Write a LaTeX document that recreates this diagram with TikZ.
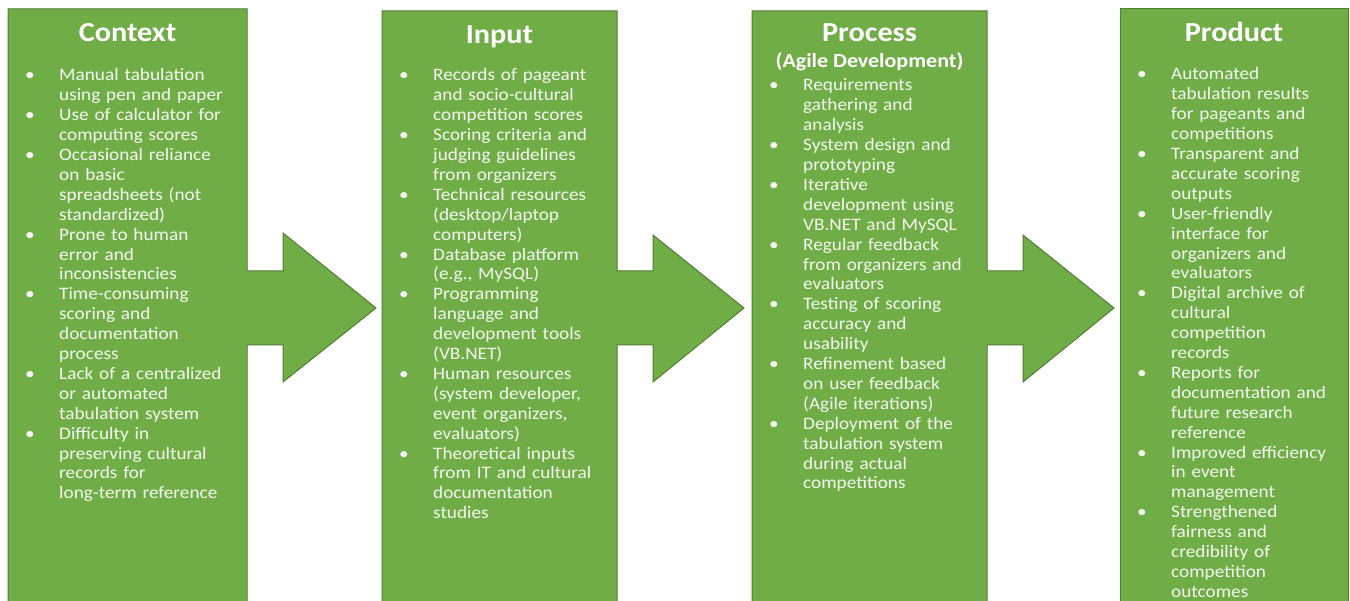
\documentclass[tikz,border=0pt]{standalone}
\usepackage{fontspec}
\setmainfont{Carlito}[FakeStretch=1.1]
\definecolor{boxgreen}{HTML}{70AD47}
\definecolor{boxline}{HTML}{507E32}
\definecolor{txtcol}{HTML}{F4F8F1}
\newcommand{\bitem}[1]{\par\noindent\hangindent=34pt\hangafter=1\makebox[34pt][l]{\textbullet}#1\par}
\tikzset{
  panel/.style={fill=boxgreen, draw=boxline, line width=1pt, line join=miter},
  ttl/.style={font=\fontsize{27.5}{30}\selectfont\bfseries, text=white, anchor=base, inner sep=0pt},
  subttl/.style={font=\fontsize{20}{22}\selectfont\bfseries, text=white, anchor=base, inner sep=0pt},
  lst/.style={text=txtcol, anchor=base west, inner sep=0pt, text width=250pt,
    font=\fontsize{17.5}{19.9}\selectfont},
}
\begin{document}
\begin{tikzpicture}[x=1pt,y=-1pt]
\useasboundingbox (0,0) rectangle (1350,601);
\clip (0,0) rectangle (1350,601);
% panels with arrows
\filldraw[panel] (8,9) -- (247,9) -- (247,271) -- (283,271) -- (283,233) -- (376,308) -- (283,382) -- (283,345) -- (247,345) -- (247,615) -- (8,615) -- cycle;
\filldraw[panel] (382,11) -- (617,11) -- (617,271) -- (653,271) -- (653,235) -- (744,308) -- (653,382) -- (653,345) -- (617,345) -- (617,615) -- (382,615) -- cycle;
\filldraw[panel] (752,11) -- (987,11) -- (987,271) -- (1023,271) -- (1023,235) -- (1114,308) -- (1023,382) -- (1023,345) -- (987,345) -- (987,615) -- (752,615) -- cycle;
\filldraw[panel] (1120,9) -- (1348,9) -- (1348,615) -- (1120,615) -- cycle;
% titles
\node[ttl] (t1) at (127.5,42) {Context};
\node[ttl] (t2) at (499.5,43.5) {Input};
\node[ttl] (t3) at (869.5,42) {Process};
\node[subttl] (s3) at (869.5,68) {(Agile Development)};
\node[ttl] (t4) at (1234,42) {Product};
% lists
\node[lst] (l1) at (25,61.1) {%
\bitem{Manual tabulation\newline using pen and paper}%
\bitem{Use of calculator for\newline computing scores}%
\bitem{Occasional reliance\newline on basic\newline spreadsheets (not\newline standardized)}%
\bitem{Prone to human\newline error and\newline inconsistencies}%
\bitem{Time-consuming\newline scoring and\newline documentation\newline process}%
\bitem{Lack of a centralized\newline or automated\newline tabulation system}%
\bitem{Difficulty in\newline preserving cultural\newline records for\newline long-term reference}};
\node[lst] (l2) at (399,61.1) {%
\bitem{Records of pageant\newline and socio-cultural\newline competition scores}%
\bitem{Scoring criteria and\newline judging guidelines\newline from organizers}%
\bitem{Technical resources\newline (desktop/laptop\newline computers)}%
\bitem{Database platform\newline (e.g., MySQL)}%
\bitem{Programming\newline language and\newline development tools\newline (VB.NET)}%
\bitem{Human resources\newline (system developer,\newline event organizers,\newline evaluators)}%
\bitem{Theoretical inputs\newline from IT and cultural\newline documentation\newline studies}};
\node[lst] (l3) at (769,71.1) {%
\bitem{Requirements\newline gathering and\newline analysis}%
\bitem{System design and\newline prototyping}%
\bitem{Iterative\newline development using\newline VB.NET and MySQL}%
\bitem{Regular feedback\newline from organizers and\newline evaluators}%
\bitem{Testing of scoring\newline accuracy and\newline usability}%
\bitem{Refinement based\newline on user feedback\newline (Agile iterations)}%
\bitem{Deployment of the\newline tabulation system\newline during actual\newline competitions}};
\node[lst] (l4) at (1137,60.1) {%
\bitem{Automated\newline tabulation results\newline for pageants and\newline competitions}%
\bitem{Transparent and\newline accurate scoring\newline outputs}%
\bitem{User-friendly\newline interface for\newline organizers and\newline evaluators}%
\bitem{Digital archive of\newline cultural\newline competition\newline records}%
\bitem{Reports for\newline documentation and\newline future research\newline reference}%
\bitem{Improved efficiency\newline in event\newline management}%
\bitem{Strengthened\newline fairness and\newline credibility of\newline competition\newline outcomes}};
\end{tikzpicture}
\end{document}
